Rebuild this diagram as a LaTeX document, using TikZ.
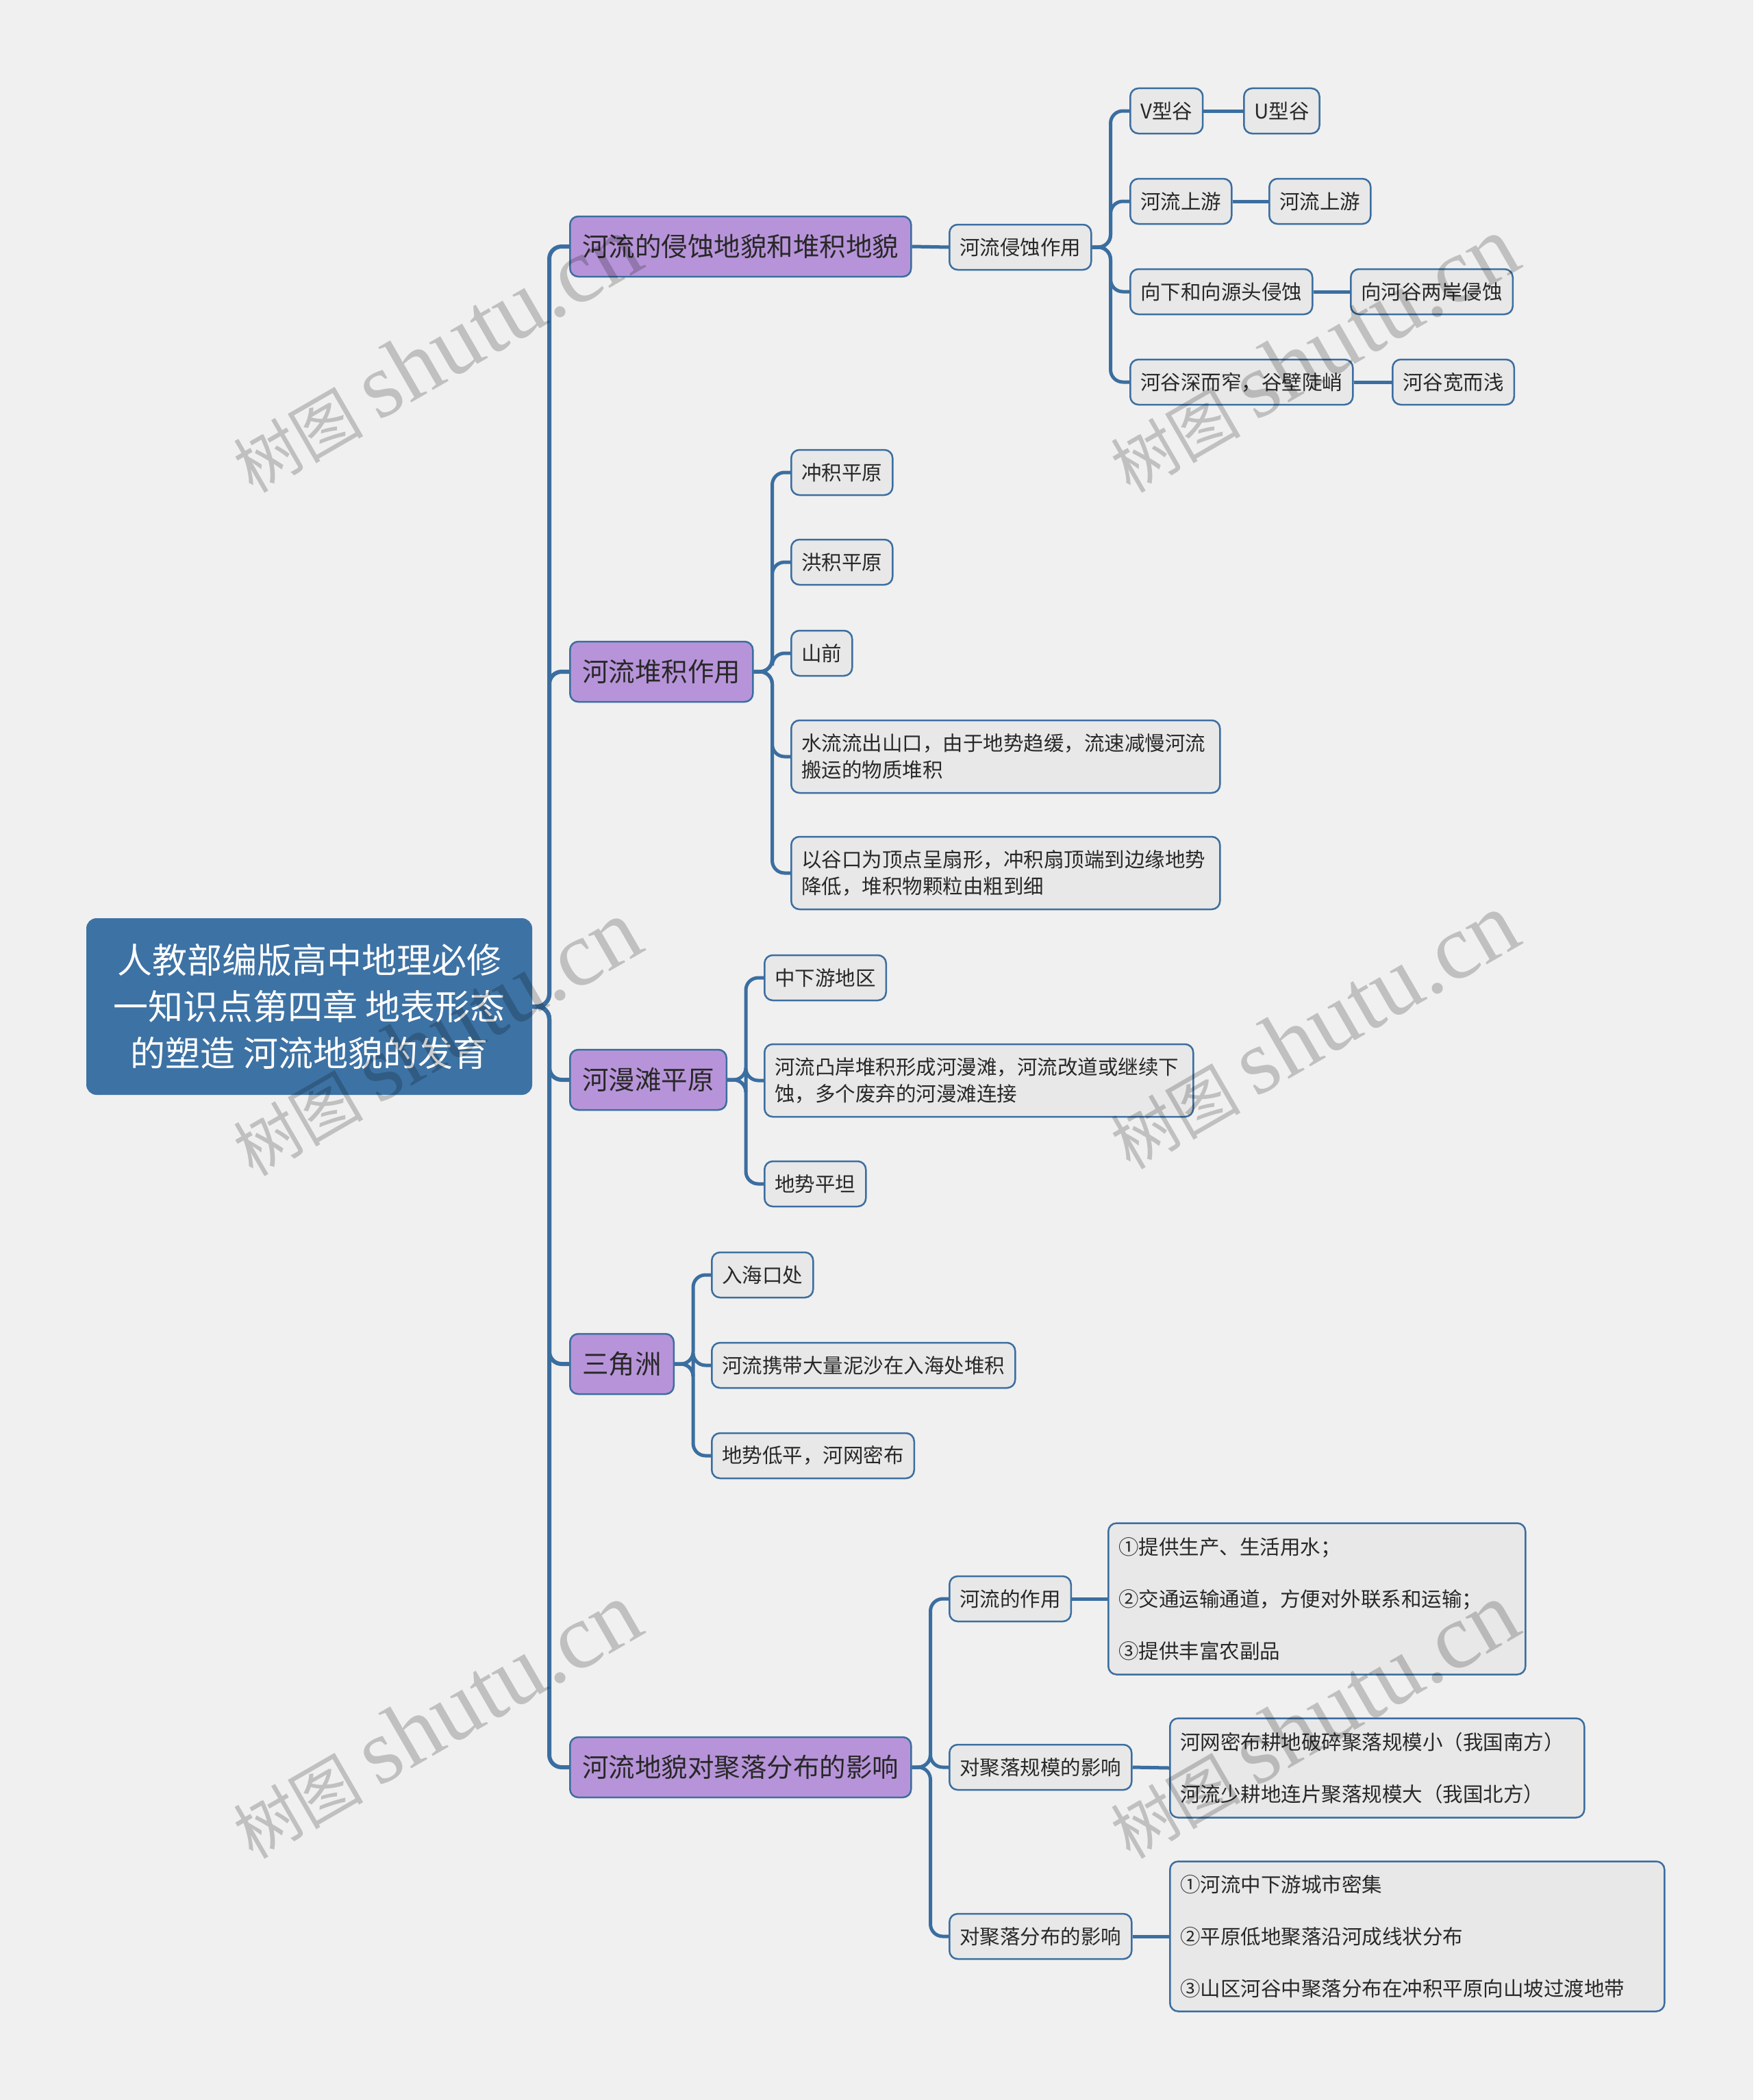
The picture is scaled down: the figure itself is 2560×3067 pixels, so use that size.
\documentclass[tikz,border=0pt]{standalone}
\usepackage{fontspec}
\setmainfont{Noto Sans CJK SC}
\newfontfamily\wmfont{Liberation Serif}
\usetikzlibrary{calc,backgrounds}
\definecolor{bgc}{RGB}{240,240,240}
\definecolor{lnc}{RGB}{59,110,160}
\definecolor{rootc}{RGB}{61,114,164}
\definecolor{purp}{RGB}{183,148,217}
\definecolor{grayf}{RGB}{232,232,232}
\definecolor{txtc}{RGB}{40,40,40}
\tikzset{
  rootnode/.style={fill=rootc, draw=rootc, line width=2pt, rounded corners=14pt, text=white,
    font=\fontsize{51}{68}\selectfont, align=center, minimum width=649pt, minimum height=256pt, inner sep=0pt},
  lone/.style={fill=purp, draw=lnc, line width=2.5pt, rounded corners=12pt, text=txtc,
    font=\fontsize{38.5}{46}\selectfont, minimum height=88pt, inner xsep=18pt, inner ysep=0pt, anchor=west},
  ltwo/.style={fill=grayf, draw=lnc, line width=2.5pt, rounded corners=12pt, text=txtc,
    font=\fontsize{29.5}{39}\selectfont, minimum height=66pt, inner xsep=15pt, inner ysep=0pt, anchor=west},
  ltwom/.style={ltwo, align=left, text width=596pt, minimum height=106pt},
  lbig/.style={ltwo, align=left, font=\fontsize{29.5}{76}\selectfont},
  conn/.style={draw=lnc, line width=5pt, rounded corners=18pt},
  wm/.style={rotate=30, text=black, opacity=0.2, inner sep=0pt},
}
\begin{document}
\begin{tikzpicture}[x=1pt, y=-1pt]
\useasboundingbox (0,0) rectangle (2560,3067);

% root
\node[rootnode] (root) at (451.5,1470) {人教部编版高中地理必修\\一知识点第四章 地表形态\\的塑造 河流地貌的发育};

% level 1
\node[lone] (a1) at (831,360) {河流的侵蚀地貌和堆积地貌};
\node[lone] (a2) at (831,981) {河流堆积作用};
\node[lone] (a3) at (831,1577) {河漫滩平原};
\node[lone] (a4) at (831,1992) {三角洲};
\node[lone] (a5) at (831,2581) {河流地貌对聚落分布的影响};

% group 1
\node[ltwo] (b1) at (1385,361) {河流侵蚀作用};
\node[ltwo] (c1) at (1649,162) {V型谷};
\node[ltwo] (d1) at (1815,162) {U型谷};
\node[ltwo] (c2) at (1649,294) {河流上游};
\node[ltwo] (d2) at (1852,294) {河流上游};
\node[ltwo] (c3) at (1649,426) {向下和向源头侵蚀};
\node[ltwo] (d3) at (1971,426) {向河谷两岸侵蚀};
\node[ltwo] (c4) at (1649,558) {河谷深而窄，谷壁陡峭};
\node[ltwo] (d4) at (2032,558) {河谷宽而浅};

% group 2
\node[ltwo] (e1) at (1154,690) {冲积平原};
\node[ltwo] (e2) at (1154,821) {洪积平原};
\node[ltwo] (e3) at (1154,954) {山前};
\node[ltwom] (e4) at (1154,1105) {水流流出山口，由于地势趋缓，流速减慢河流\\搬运的物质堆积};
\node[ltwom] (e5) at (1154,1275) {以谷口为顶点呈扇形，冲积扇顶端到边缘地势\\降低，堆积物颗粒由粗到细};

% group 3
\node[ltwo] (f1) at (1115,1428) {中下游地区};
\node[ltwom] (f2) at (1115,1578) {河流凸岸堆积形成河漫滩，河流改道或继续下\\蚀，多个废弃的河漫滩连接};
\node[ltwo] (f3) at (1115,1729) {地势平坦};

% group 4
\node[ltwo] (g1) at (1038,1862) {入海口处};
\node[ltwo] (g2) at (1038,1994) {河流携带大量泥沙在入海处堆积};
\node[ltwo] (g3) at (1038,2126) {地势低平，河网密布};

% group 5
\node[ltwo] (h1) at (1385,2335) {河流的作用};
\node[lbig, text width=579pt, minimum height=221pt] (i1) at (1617,2335) {①提供生产、生活用水；\\②交通运输通道，方便对外联系和运输；\\③提供丰富农副品};
\node[ltwo] (h2) at (1385,2581) {对聚落规模的影响};
\node[lbig, text width=575pt, minimum height=145pt] (i2) at (1707,2582) {河网密布耕地破碎聚落规模小（我国南方）\\河流少耕地连片聚落规模大（我国北方）};
\node[ltwo] (h3) at (1385,2828) {对聚落分布的影响};
\node[lbig, text width=692pt, minimum height=219pt] (i3) at (1707,2828) {①河流中下游城市密集\\②平原低地聚落沿河成线状分布\\③山区河谷中聚落分布在冲积平原向山坡过渡地带};

\begin{scope}[on background layer]
\fill[bgc] (0,0) rectangle (2560,3067);
% connectors: root to level 1
\coordinate (tr) at (802,1470);
\foreach \n in {a1,a2,a3,a4,a5} \draw[conn, line width=6pt] (root.east) -- (tr) |- (\n.west);

% group 1
\draw[conn] (a1.east) -- (b1.west);
\coordinate (k1) at ($(b1.east)+(27,0)$);
\foreach \n in {c1,c2,c3,c4} \draw[conn] (b1.east) -- (k1) |- (\n.west);
\draw[conn] (c1.east) -- (d1.west);
\draw[conn] (c2.east) -- (d2.west);
\draw[conn] (c3.east) -- (d3.west);
\draw[conn] (c4.east) -- (d4.west);

% group 2
\coordinate (k2) at ($(a2.east)+(27,0)$);
\foreach \n in {e1,e2,e3,e4,e5} \draw[conn] (a2.east) -- (k2) |- (\n.west);

% group 3
\coordinate (k3) at ($(a3.east)+(27,0)$);
\foreach \n in {f1,f2,f3} \draw[conn] (a3.east) -- (k3) |- (\n.west);

% group 4
\coordinate (k4) at ($(a4.east)+(27,0)$);
\foreach \n in {g1,g2,g3} \draw[conn] (a4.east) -- (k4) |- (\n.west);

% group 5
\coordinate (k5) at ($(a5.east)+(27,0)$);
\foreach \n in {h1,h2,h3} \draw[conn] (a5.east) -- (k5) |- (\n.west);
\draw[conn] (h1.east) -- (i1.west);
\draw[conn] (h2.east) -- (i2.west);
\draw[conn] (h3.east) -- (i3.west);
\end{scope}

% watermarks
\foreach \p in {(636,518),(1917,518),(636,1516),(1917,1506),(636,2513),(1917,2513)}
  \node[wm] at \p {\fontsize{95}{95}\selectfont 树图\hspace{22pt}\wmfont\fontsize{135}{135}\selectfont shutu.cn};
\end{tikzpicture}
\end{document}
